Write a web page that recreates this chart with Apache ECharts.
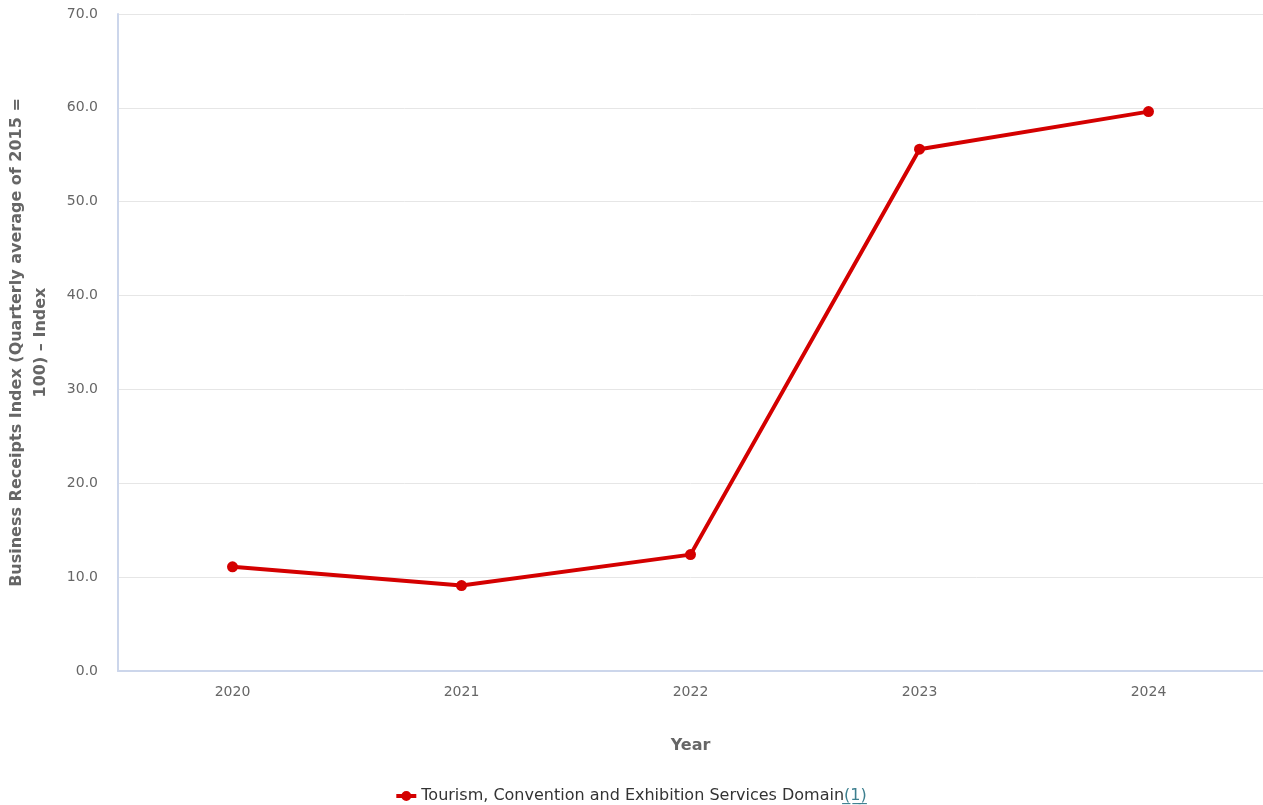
<!DOCTYPE html>
<html><head><meta charset="utf-8">
<script src="https://cdn.jsdelivr.net/npm/echarts@6/dist/echarts.min.js"></script>
<style>html,body{margin:0;padding:0;background:#fff}#c{width:1263px;height:805px}</style>
</head><body><div id="c"></div>
<script>
var years = ['2020','2021','2022','2023','2024'];
var seriesName = 'Tourism, Convention and Exhibition Services Domain';
var values = [11.1, 9.1, 12.4, 55.6, 59.6];
var yTitle = 'Business Receipts Index (Quarterly average of 2015 =\n100) \u2013 Index';
var xTitle = 'Year';
var FONT = 'DejaVu Sans';
var chart = echarts.init(document.getElementById('c'));
chart.setOption({
  animation: false,
  textStyle: {fontFamily: FONT},
  grid: {left: 118, right: 0, top: 14, bottom: 134, containLabel: false, outerBoundsMode: 'none'},
  legend: {
    left: 'center', top: 783,
    itemWidth: 20, itemHeight: 10, itemGap: 10,
    data: [{name: seriesName, icon: 'path://M0,3H20V7H0Z M10,0A5,5 0 1 1 9.99,0Z'}],
    formatter: function (n) { return '{a|' + n + '}{b|(\u03321\u0332)\u0332}'; },
    textStyle: {
      fontFamily: FONT, fontSize: 16, color: '#333',
      rich: {a: {fontFamily: FONT, fontSize: 16, color: '#333'}, b: {fontFamily: FONT, fontSize: 16, color: '#3d7f8f'}}
    }
  },
  xAxis: {
    type: 'category', data: years, boundaryGap: true,
    name: xTitle, nameLocation: 'middle', nameGap: 67,
    nameTextStyle: {fontFamily: FONT, fontSize: 16, color: '#666', fontWeight: 'bold'},
    axisLine: {show: true, lineStyle: {color: '#ccd6eb', width: 2}},
    axisTick: {show: false},
    axisLabel: {fontFamily: FONT, fontSize: 14, color: '#666', margin: 14},
    splitLine: {show: false}
  },
  yAxis: {
    type: 'value', min: 0, max: 70, interval: 10,
    name: yTitle, nameLocation: 'middle', nameGap: 65, nameRotate: 90,
    nameTextStyle: {fontFamily: FONT, fontSize: 16, color: '#666', fontWeight: 'bold', lineHeight: 24},
    axisLine: {show: true, lineStyle: {color: '#ccd6eb', width: 2}},
    axisTick: {show: false},
    axisLabel: {fontFamily: FONT, fontSize: 14, color: '#666', margin: 20, formatter: function (v) { return v.toFixed(1); }},
    splitLine: {show: true, lineStyle: {color: '#e6e6e6', width: 1}}
  },
  series: [{
    name: seriesName, type: 'line', data: values,
    symbol: 'circle', symbolSize: 11,
    lineStyle: {color: '#d40000', width: 4},
    itemStyle: {color: '#d40000'},
    z: 3
  }]
});
</script></body></html>
